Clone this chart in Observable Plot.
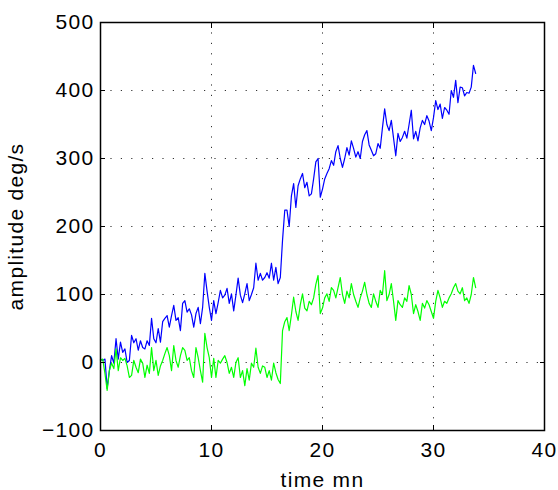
<!DOCTYPE html>
<html>
<head>
<meta charset="utf-8">
<script src="https://cdn.jsdelivr.net/npm/d3@7"></script>
<script src="https://cdn.jsdelivr.net/npm/@observablehq/plot@0.6"></script>
<style>
  html, body { margin: 0; padding: 0; background: #fff; }
  svg { font-family: "Liberation Sans", Arial, sans-serif; }
</style>
</head>
<body>
<div id="chart"></div>
<script>
const time = [0,0.2,0.4,0.6,0.8,1,1.2,1.4,1.6,1.8,2,2.2,2.4,2.6,2.8,3,3.2,3.4,3.6,3.8,4,4.2,4.4,4.6,4.8,5,5.2,5.4,5.6,5.8,6,6.2,6.4,6.6,6.8,7,7.2,7.4,7.6,7.8,8,8.2,8.4,8.6,8.8,9,9.2,9.4,9.6,9.8,10,10.2,10.4,10.6,10.8,11,11.2,11.4,11.6,11.8,12,12.2,12.4,12.6,12.8,13,13.2,13.4,13.6,13.8,14,14.2,14.4,14.6,14.8,15,15.2,15.4,15.6,15.8,16,16.2,16.4,16.6,16.8,17,17.2,17.4,17.6,17.8,18,18.2,18.4,18.6,18.8,19,19.2,19.4,19.6,19.8,20,20.2,20.4,20.6,20.8,21,21.2,21.4,21.6,21.8,22,22.2,22.4,22.6,22.8,23,23.2,23.4,23.6,23.8,24,24.2,24.4,24.6,24.8,25,25.2,25.4,25.6,25.8,26,26.2,26.4,26.6,26.8,27,27.2,27.4,27.6,27.8,28,28.2,28.4,28.6,28.8,29,29.2,29.4,29.6,29.8,30,30.2,30.4,30.6,30.8,31,31.2,31.4,31.6,31.8,32,32.2,32.4,32.6,32.8,33,33.2,33.4,33.6,33.8];

const blue = [5,3,5,-38,-12,10,-1,35,5,30,15,20,0,3,40,29,35,18,32,22,20,32,25,65,35,29,50,30,60,65,69,52,69,84,62,66,47,87,91,74,79,70,52,72,81,57,81,131,105,81,62,91,72,88,106,95,99,109,87,101,76,99,124,99,88,101,116,91,100,110,146,121,131,121,125,132,124,146,121,140,116,125,180,224,224,200,245,263,228,260,270,278,257,265,245,248,270,295,300,243,255,270,278,285,297,290,310,319,300,287,300,316,305,326,315,302,310,300,325,335,341,320,312,304,307,322,315,345,373,350,341,356,330,304,337,325,331,340,330,350,371,329,340,326,345,356,350,363,355,341,360,385,372,380,359,375,371,365,400,390,415,382,405,404,392,397,396,405,437,425];

const green = [3,5,-16,-41,-12,-1,-9,20,-12,7,3,6,-5,-22,-19,3,-7,-15,5,-1,-22,-4,-16,22,-12,3,-19,-5,3,13,22,10,-12,25,3,-7,10,22,18,3,7,-12,-22,22,7,-12,-29,43,22,7,-22,6,-22,3,-1,5,10,0,-16,-7,-22,0,7,-22,-12,-34,-9,-26,-1,-7,21,-7,-16,-5,-7,-22,-12,-26,-1,-15,-25,-31,47,60,66,47,70,96,75,62,85,101,80,76,90,85,95,115,128,72,80,95,101,90,110,106,95,110,125,100,87,105,95,116,100,90,81,95,105,118,100,87,81,101,90,81,106,100,135,91,100,116,90,62,91,85,81,95,90,113,100,72,85,75,62,87,80,91,85,75,65,90,106,95,81,90,87,95,101,110,116,105,101,110,91,95,87,100,125,110];

const xTicks = [0, 10, 20, 30, 40];
const yTicks = [-100, 0, 100, 200, 300, 400, 500];
const xLabel = "time mn";
const yLabel = "amplitude deg/s";

const blueData = time.map((t, i) => ({t, v: blue[i]}));
const greenData = time.map((t, i) => ({t, v: green[i]}));

const chart = Plot.plot({
  width: 558,
  height: 490,
  marginLeft: 100,
  marginRight: 14,
  marginTop: 22,
  marginBottom: 60,
  style: {fontSize: "21px", fontFamily: "Liberation Sans, Arial, sans-serif", color: "#000", background: "#fff", letterSpacing: "1.3px"},
  x: {domain: [0, 40]},
  y: {domain: [-100, 500]},
  marks: [
    Plot.gridX(xTicks.slice(1, -1), {stroke: "#000", strokeOpacity: 0.8, strokeWidth: 1, strokeDasharray: "1.2,9.2"}),
    Plot.gridY(yTicks.slice(1, -1), {stroke: "#000", strokeOpacity: 0.8, strokeWidth: 1, strokeDasharray: "1.2,9.2"}),
    Plot.line(blueData, {x: "t", y: "v", stroke: "#0000ff", strokeWidth: 1.2}),
    Plot.line(greenData, {x: "t", y: "v", stroke: "#00ff00", strokeWidth: 1.2}),
    Plot.axisX(xTicks, {anchor: "bottom", tickSize: 0, tickPadding: 12, fontSize: 21, label: null}),
    Plot.axisY(yTicks, {anchor: "left", tickSize: 0, tickPadding: 6, fontSize: 21, label: null}),
    Plot.axisX(xTicks, {anchor: "bottom", tickSize: -5, text: null, label: null}),
    Plot.axisX(xTicks, {anchor: "top", tickSize: -5, text: null, label: null}),
    Plot.axisY(yTicks, {anchor: "left", tickSize: -5, text: null, label: null}),
    Plot.axisY(yTicks, {anchor: "right", tickSize: -5, text: null, label: null}),
    Plot.frame({stroke: "#000", strokeWidth: 1.5}),
    Plot.text([xLabel], {frameAnchor: "bottom", lineAnchor: "middle", dy: 50, fontSize: 21, fill: "#000"}),
    Plot.text([yLabel], {frameAnchor: "left", textAnchor: "middle", lineAnchor: "middle", dx: -84, rotate: -90, fontSize: 21, fill: "#000"})
  ]
});
document.getElementById("chart").appendChild(chart);
</script>
</body>
</html>
